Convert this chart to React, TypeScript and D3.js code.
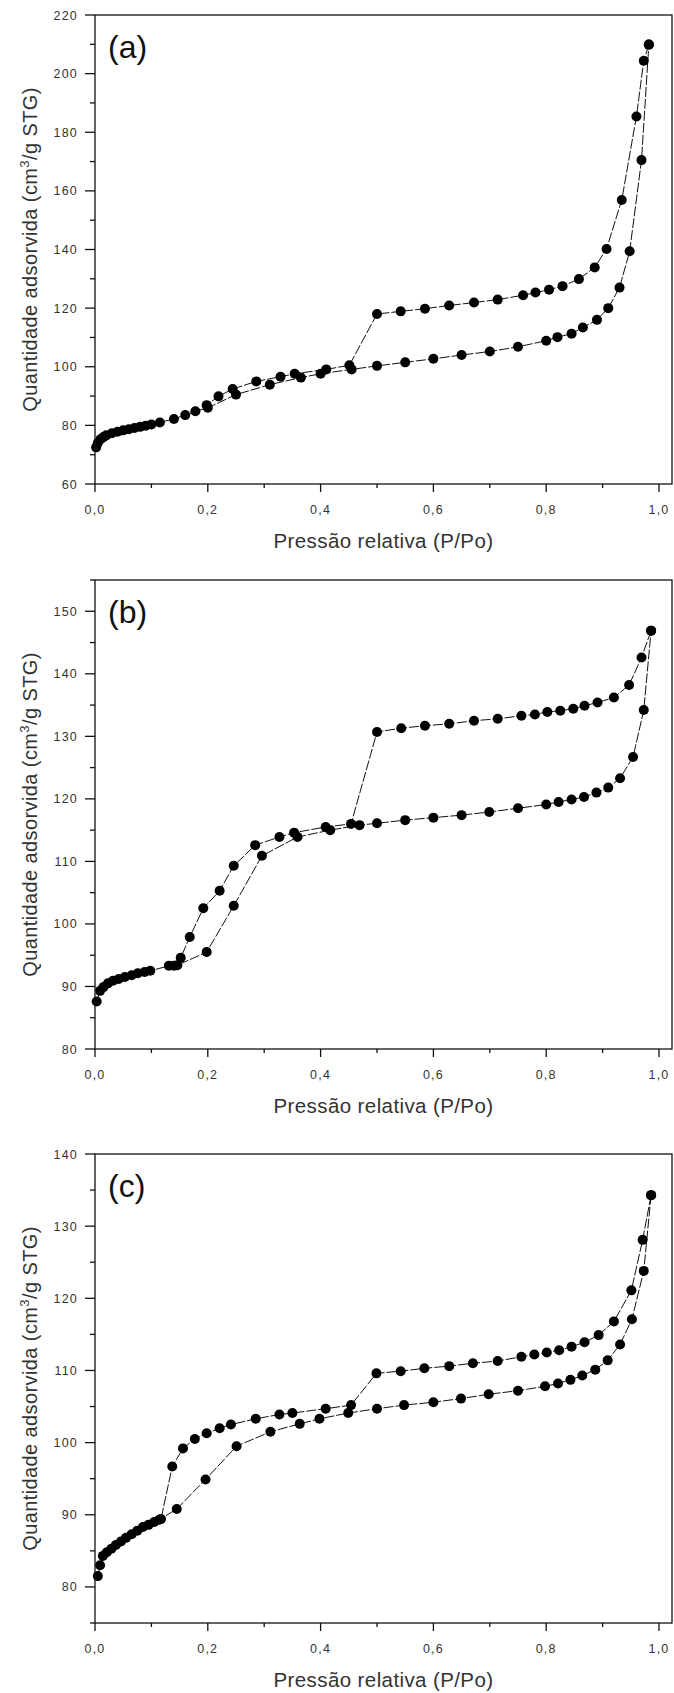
import React from "react";
import * as d3 from "d3";

// ---------- DATA ----------
// Panel (a)
const aAdsP = [0.002, 0.005, 0.01, 0.015, 0.02, 0.03, 0.04, 0.05, 0.06, 0.07, 0.08, 0.09, 0.1, 0.115, 0.14, 0.16, 0.178, 0.2, 0.25, 0.31, 0.365, 0.4, 0.455, 0.5, 0.55, 0.6, 0.65, 0.7, 0.75, 0.8, 0.82, 0.845, 0.865, 0.89, 0.91, 0.93, 0.948, 0.969, 0.982];
const aAdsV = [72.5, 74, 75.3, 76, 76.6, 77.3, 77.8, 78.3, 78.7, 79.1, 79.5, 79.9, 80.3, 81, 82.2, 83.5, 84.8, 86, 90.5, 93.9, 96.3, 97.6, 99.1, 100.3, 101.5, 102.7, 104, 105.2, 106.8, 108.9, 110.1, 111.3, 113.4, 116, 120, 127, 139.4, 170.5, 209.9];
const aDesP = [0.982, 0.973, 0.96, 0.934, 0.907, 0.886, 0.858, 0.829, 0.805, 0.781, 0.759, 0.714, 0.672, 0.628, 0.585, 0.542, 0.5, 0.451, 0.41, 0.354, 0.329, 0.286, 0.244, 0.219, 0.198];
const aDesV = [209.9, 204.4, 185.4, 156.9, 140.2, 133.9, 129.9, 127.5, 126.3, 125.3, 124.4, 122.9, 121.9, 120.9, 119.8, 118.9, 118, 100.5, 99.1, 97.6, 96.6, 95, 92.4, 89.9, 86.9];

// Panel (b)
const bAdsP = [0.003, 0.009, 0.015, 0.023, 0.032, 0.042, 0.053, 0.065, 0.076, 0.088, 0.098, 0.131, 0.146, 0.198, 0.246, 0.296, 0.359, 0.417, 0.469, 0.5, 0.55, 0.6, 0.65, 0.699, 0.75, 0.8, 0.822, 0.845, 0.867, 0.889, 0.91, 0.931, 0.954, 0.973, 0.986];
const bAdsV = [87.6, 89.3, 89.9, 90.5, 90.9, 91.2, 91.5, 91.8, 92.1, 92.3, 92.5, 93.3, 93.4, 95.5, 102.9, 110.9, 113.9, 115, 115.8, 116.1, 116.6, 117, 117.4, 117.9, 118.5, 119.1, 119.5, 119.9, 120.3, 121, 121.8, 123.3, 126.7, 134.2, 146.9];
const bDesP = [0.986, 0.969, 0.947, 0.92, 0.891, 0.868, 0.848, 0.825, 0.802, 0.78, 0.756, 0.714, 0.672, 0.628, 0.585, 0.543, 0.5, 0.454, 0.409, 0.353, 0.327, 0.284, 0.246, 0.221, 0.192, 0.168, 0.152, 0.14];
const bDesV = [146.9, 142.6, 138.2, 136.2, 135.4, 134.9, 134.4, 134.1, 133.9, 133.5, 133.3, 132.8, 132.5, 132, 131.7, 131.3, 130.7, 116, 115.5, 114.6, 113.9, 112.6, 109.3, 105.3, 102.5, 97.9, 94.6, 93.3];

// Panel (c)
const cAdsP = [0.005, 0.009, 0.014, 0.021, 0.029, 0.037, 0.046, 0.055, 0.065, 0.075, 0.085, 0.095, 0.105, 0.114, 0.145, 0.196, 0.251, 0.311, 0.363, 0.398, 0.449, 0.5, 0.548, 0.6, 0.649, 0.698, 0.75, 0.798, 0.821, 0.843, 0.864, 0.887, 0.909, 0.931, 0.952, 0.973, 0.986];
const cAdsV = [81.5, 83, 84.3, 84.8, 85.3, 85.8, 86.3, 86.8, 87.3, 87.8, 88.3, 88.6, 89, 89.3, 90.8, 94.9, 99.5, 101.5, 102.6, 103.3, 104.1, 104.7, 105.2, 105.6, 106.1, 106.7, 107.2, 107.8, 108.2, 108.7, 109.3, 110.1, 111.4, 113.6, 117.1, 123.8, 134.3];
const cDesP = [0.986, 0.971, 0.951, 0.92, 0.893, 0.868, 0.845, 0.823, 0.801, 0.779, 0.756, 0.714, 0.67, 0.628, 0.584, 0.542, 0.499, 0.454, 0.409, 0.35, 0.327, 0.285, 0.241, 0.221, 0.198, 0.177, 0.156, 0.137, 0.117];
const cDesV = [134.3, 128.1, 121.1, 116.8, 114.9, 113.9, 113.3, 112.8, 112.5, 112.2, 111.9, 111.3, 111, 110.6, 110.3, 109.9, 109.6, 105.2, 104.7, 104.1, 103.9, 103.3, 102.5, 102, 101.3, 100.5, 99.2, 96.7, 89.4];

// Axis ticks
const xMajorTicks = [0, 0.2, 0.4, 0.6, 0.8, 1.0];
const xMinorTicks = [0.1, 0.3, 0.5, 0.7, 0.9];
const aYMajor = [60, 80, 100, 120, 140, 160, 180, 200, 220];
const aYMinor = [70, 90, 110, 130, 150, 170, 190, 210];
const bYMajor = [80, 90, 100, 110, 120, 130, 140, 150];
const bYMinor = [85, 95, 105, 115, 125, 135, 145, 155];
const cYMajor = [80, 90, 100, 110, 120, 130, 140];
const cYMinor = [75, 85, 95, 105, 115, 125, 135];

const panelLabels = ["(a)", "(b)", "(c)"];
const xTitle = "Pressão relativa (P/Po)";

type Panel = {
  label: string;
  top: number;
  yDomain: [number, number];
  yMajor: number[];
  yMinor: number[];
  ads: [number[], number[]];
  des: [number[], number[]];
};

const panels: Panel[] = [
  { label: panelLabels[0], top: 15, yDomain: [60, 220], yMajor: aYMajor, yMinor: aYMinor, ads: [aAdsP, aAdsV], des: [aDesP, aDesV] },
  { label: panelLabels[1], top: 580, yDomain: [80, 155], yMajor: bYMajor, yMinor: bYMinor, ads: [bAdsP, bAdsV], des: [bDesP, bDesV] },
  { label: panelLabels[2], top: 1154, yDomain: [75, 140], yMajor: cYMajor, yMinor: cYMinor, ads: [cAdsP, cAdsV], des: [cDesP, cDesV] },
];

const W = 674;
const H = 1693;
const left = 95;
const plotH = 469;
const x0 = 95;
const x1 = 659;
const frameRight = 672;
const font = "'Liberation Sans', Arial, sans-serif";

const fmt = (v: number) => v.toFixed(1).replace(".", ",");

function PanelView({ p }: { p: Panel }) {
  const bottom = p.top + plotH;
  const x = d3.scaleLinear().domain([0, 1]).range([x0, x1]);
  const y = d3.scaleLinear().domain(p.yDomain).range([bottom, p.top]);
  const line = d3
    .line<[number, number]>()
    .x((d) => x(d[0]))
    .y((d) => y(d[1]));
  const ads: [number, number][] = p.ads[0].map((v, i) => [v, p.ads[1][i]]);
  const des: [number, number][] = p.des[0].map((v, i) => [v, p.des[1][i]]);
  const cy = (p.top + bottom) / 2;
  return (
    <g>
      {/* series lines */}
      <path d={line(ads) || ""} fill="none" stroke="#111" strokeWidth={1} strokeDasharray="10,2" />
      <path d={line(des) || ""} fill="none" stroke="#111" strokeWidth={1} strokeDasharray="10,2" />
      {ads.map((d, i) => (
        <circle key={"a" + i} cx={x(d[0])} cy={y(d[1])} r={5} fill="#000" />
      ))}
      {des.map((d, i) => (
        <circle key={"d" + i} cx={x(d[0])} cy={y(d[1])} r={5} fill="#000" />
      ))}
      {/* frame */}
      <rect x={left} y={p.top} width={frameRight - left} height={plotH} fill="none" stroke="#111" strokeWidth={1.3} />
      {/* x ticks */}
      {xMajorTicks.map((t) => (
        <g key={"xm" + t}>
          <line x1={x(t)} x2={x(t)} y1={bottom} y2={bottom + 8} stroke="#111" strokeWidth={1.3} />
          <text x={x(t)} y={bottom + 30} textAnchor="middle" fontSize={12.5} letterSpacing={1.2} fill="#333" fontFamily={font}>
            {fmt(t)}
          </text>
        </g>
      ))}
      {xMinorTicks.map((t) => (
        <line key={"xn" + t} x1={x(t)} x2={x(t)} y1={bottom} y2={bottom + 4} stroke="#111" strokeWidth={1.3} />
      ))}
      {/* y ticks */}
      {p.yMajor.map((t) => (
        <g key={"ym" + t}>
          <line x1={left - 10} x2={left} y1={y(t)} y2={y(t)} stroke="#111" strokeWidth={1.3} />
          <text x={left - 17} y={y(t) + 4.5} textAnchor="end" fontSize={12.5} letterSpacing={1.2} fill="#333" fontFamily={font}>
            {t}
          </text>
        </g>
      ))}
      {p.yMinor.map((t) => (
        <line key={"yn" + t} x1={left - 5} x2={left} y1={y(t)} y2={y(t)} stroke="#111" strokeWidth={1.3} />
      ))}
      {/* panel label */}
      <text x={108} y={p.top + 43} fontSize={32} fill="#111" fontFamily={font}>
        {p.label}
      </text>
      {/* axis titles */}
      <text x={(left + frameRight) / 2} y={bottom + 64} textAnchor="middle" fontSize={20.5} letterSpacing={0.4} fill="#333" fontFamily={font}>
        {xTitle}
      </text>
      <text transform={`translate(37,${cy}) rotate(-90)`} textAnchor="middle" fontSize={20} letterSpacing={0.4} fill="#333" fontFamily={font}>
        Quantidade adsorvida (cm
        <tspan dy={-8} fontSize={13}>3</tspan>
        <tspan dy={8}>/g STG)</tspan>
      </text>
    </g>
  );
}

export default function App() {
  return (
    <div style={{ position: "absolute", left: 0, top: 0 }}>
      <svg width={W} height={H} style={{ display: "block", background: "#fff" }}>
        {panels.map((p) => (
          <PanelView key={p.label} p={p} />
        ))}
      </svg>
    </div>
  );
}
